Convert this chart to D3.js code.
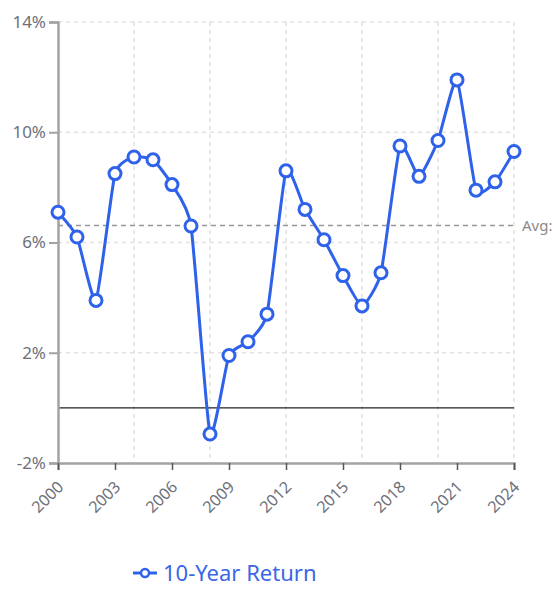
<!DOCTYPE html>
<html>
<head>
<meta charset="utf-8">
<script src="https://cdn.jsdelivr.net/npm/d3@7"></script>
<style>
  html, body { margin: 0; padding: 0; background: #fff; overflow: hidden; }
  svg { display: block; }
</style>
</head>
<body>
<div id="chart"></div>
<script>
// values
const years = d3.range(2000, 2025);
const returns = [7.1, 6.2, 3.9, 8.5, 9.1, 9.0, 8.1, 6.6, -0.95, 1.9, 2.4, 3.4,
  8.6, 7.2, 6.1, 4.8, 3.7, 4.9, 9.5, 8.4, 9.7, 11.9, 7.9, 8.2, 9.3];
const yTicks = [-2, 2, 6, 10, 14];
const xTicks = [2000, 2003, 2006, 2009, 2012, 2015, 2018, 2021, 2024];
const xGrid = [2000, 2004, 2008, 2012, 2016, 2020, 2024];
const seriesName = "10-Year Return";

const width = 559, height = 589;
const margin = { top: 22, right: 45, bottom: 126, left: 58 };
const font = "Noto Sans, Open Sans, sans-serif";
const blue = "#2f62ea";
const axisGray = "#a3a3a3";
const labelGray = "#6e7079";

const svg = d3.select("#chart").append("svg")
  .attr("width", width)
  .attr("height", height)
  .attr("font-family", font);

const x = d3.scaleLinear().domain([2000, 2024]).range([margin.left, width - margin.right]);
const y = d3.scaleLinear().domain([-2, 14]).range([height - margin.bottom, margin.top]);

// grid
svg.append("g").selectAll("line").data(yTicks.slice(1)).join("line")
  .attr("x1", x(2000)).attr("x2", x(2024))
  .attr("y1", d => y(d)).attr("y2", d => y(d))
  .attr("stroke", "#e2e2e2").attr("stroke-width", 1.5).attr("stroke-dasharray", "4,4");
svg.append("g").selectAll("line").data(xGrid.slice(1)).join("line")
  .attr("x1", d => x(d)).attr("x2", d => x(d))
  .attr("y1", y(14)).attr("y2", y(-2))
  .attr("stroke", "#e2e2e2").attr("stroke-width", 1.5).attr("stroke-dasharray", "4,4");

// zero line
svg.append("line")
  .attr("x1", x(2000)).attr("x2", x(2024))
  .attr("y1", y(0)).attr("y2", y(0))
  .attr("stroke", "#222").attr("stroke-width", 1.2);

// axes
const yAxis = svg.append("g")
  .attr("transform", `translate(${x(2000)},0)`)
  .call(d3.axisLeft(y).tickValues(yTicks).tickFormat(d => d + "%").tickSize(9).tickPadding(3))
  .attr("font-family", font)
  .attr("font-size", 17);
const xAxis = svg.append("g")
  .attr("transform", `translate(0,${y(-2)})`)
  .call(d3.axisBottom(x).tickValues(xTicks).tickFormat(d3.format("d")).tickSize(7).tickPadding(4))
  .attr("font-family", font)
  .attr("font-size", 16);

yAxis.select(".domain").attr("stroke", axisGray).attr("stroke-width", 2.5);
yAxis.selectAll(".tick line").attr("stroke", axisGray).attr("stroke-width", 2);
yAxis.selectAll("text").attr("fill", labelGray);

xAxis.select(".domain").attr("stroke", axisGray).attr("stroke-width", 2.5);
xAxis.selectAll(".tick line").attr("stroke", "#555").attr("stroke-width", 1.5);
xAxis.selectAll("text")
  .attr("fill", labelGray)
  .attr("text-anchor", "end")
  .attr("y", 0)
  .attr("dy", "0.35em")
  .attr("transform", "translate(2,21) rotate(-45)");

// average line
const avg = d3.mean(returns);
svg.append("line")
  .attr("x1", x(2000)).attr("x2", x(2024))
  .attr("y1", y(avg)).attr("y2", y(avg))
  .attr("stroke", "#999").attr("stroke-width", 1.5).attr("stroke-dasharray", "5,4");
svg.append("text")
  .attr("x", x(2024) + 8).attr("y", y(avg))
  .attr("dy", "0.35em")
  .attr("fill", "#8a8a8a")
  .attr("font-size", 15)
  .text("Avg:");

// series
const points = years.map((yr, i) => ({ year: yr, value: returns[i] }));
const line = d3.line()
  .x(d => x(d.year))
  .y(d => y(d.value))
  .curve(d3.curveCardinal.tension(0.5));

svg.append("path")
  .datum(points)
  .attr("fill", "none")
  .attr("stroke", blue)
  .attr("stroke-width", 3)
  .attr("d", line);

svg.append("g").selectAll("circle").data(points).join("circle")
  .attr("cx", d => x(d.year))
  .attr("cy", d => y(d.value))
  .attr("r", 6)
  .attr("fill", "#fff")
  .attr("stroke", blue)
  .attr("stroke-width", 3);

// legend
const legend = svg.append("g").attr("transform", "translate(133,573)");
legend.append("line")
  .attr("x1", 0).attr("x2", 24).attr("y1", 0).attr("y2", 0)
  .attr("stroke", blue).attr("stroke-width", 3);
legend.append("circle")
  .attr("cx", 12).attr("cy", 0).attr("r", 4)
  .attr("fill", "#fff").attr("stroke", blue).attr("stroke-width", 2.5);
legend.append("text")
  .attr("x", 30).attr("y", 0).attr("dy", "0.35em")
  .attr("fill", "#3b66e6")
  .attr("font-size", 22)
  .text(seriesName);
</script>
</body>
</html>
